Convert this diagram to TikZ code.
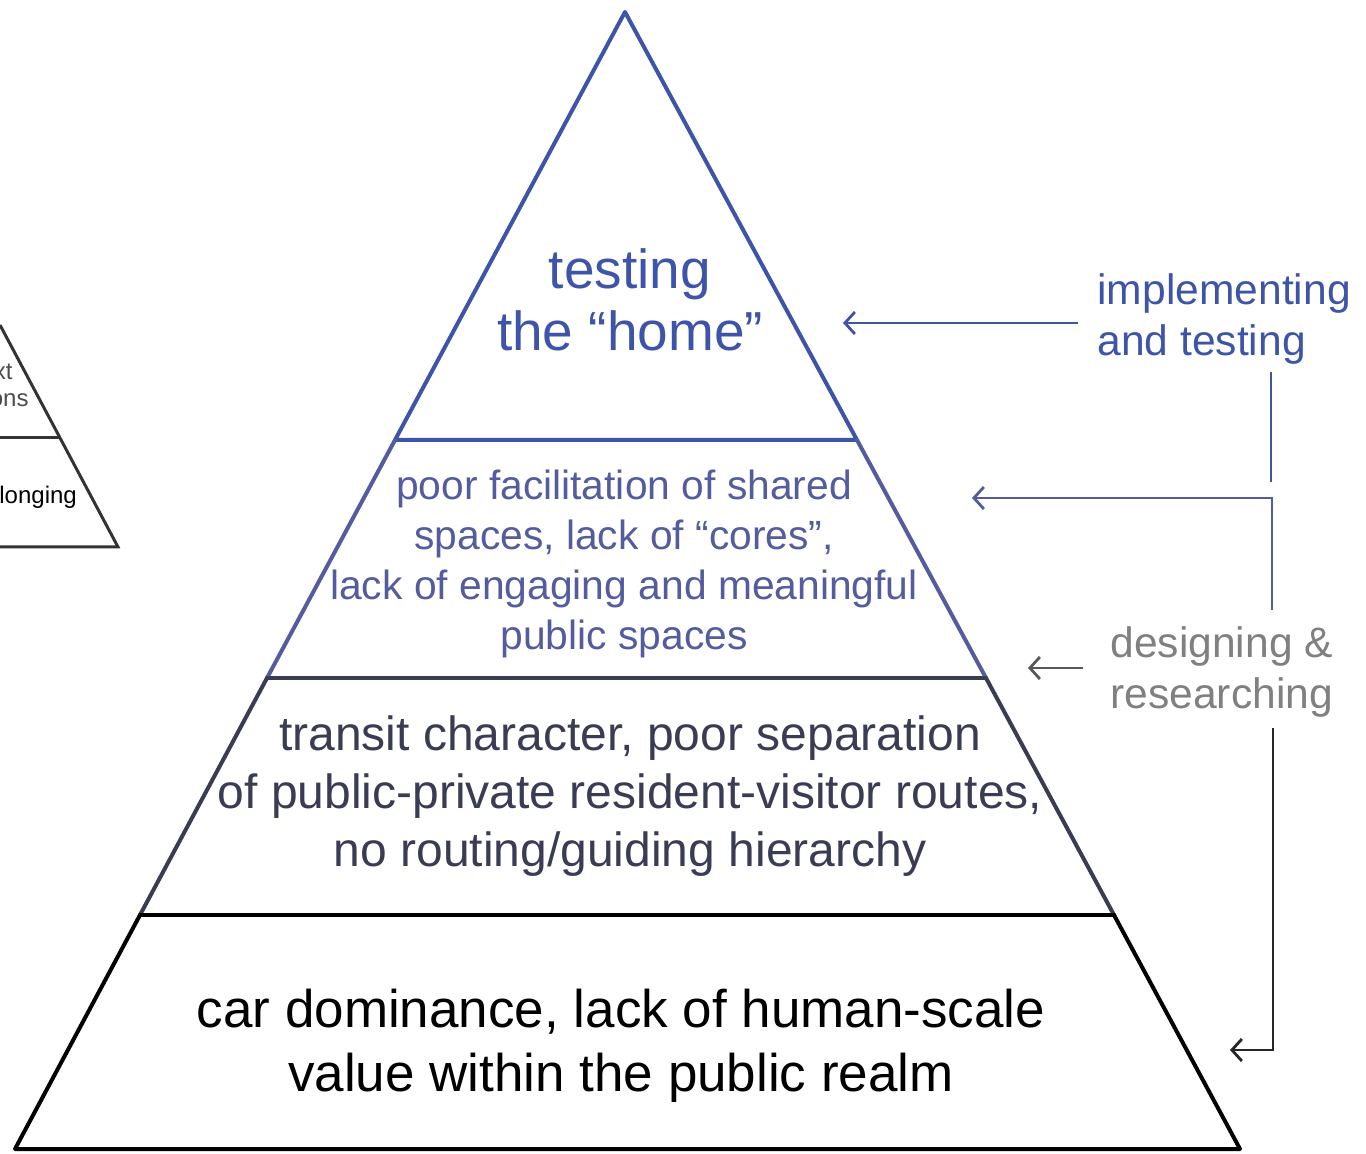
\documentclass[tikz,border=0pt]{standalone}
\usepackage{fontspec}
\setmainfont{Liberation Sans}
\usetikzlibrary{arrows.meta}
\definecolor{topblue}{RGB}{62,84,168}
\definecolor{midblue}{RGB}{84,92,158}
\definecolor{slate}{RGB}{58,60,84}
\definecolor{labelgray}{RGB}{128,128,128}

\begin{document}
\begin{tikzpicture}[x=0.5pt, y=-0.5pt,
                    every node/.style={inner sep=0pt, align=center},
                    tier_edge/.style={line width=2pt, line cap=round, line join=round},
                    flow_arrow/.style={line width=1.4pt, -{Straight Barb[length=5pt,width=11pt]}}]
                    \useasboundingbox (0,0) rectangle (1366,1154);
                    % corners of the big pyramid
                    \coordinate (apex) at (625, 12);
                    \coordinate (l1) at (395, 440);
                    \coordinate (r1) at (857, 440);
                    \coordinate (l2) at (267, 678);
                    \coordinate (r2) at (986, 678);
                    \coordinate (l3) at (140, 915);
                    \coordinate (r3) at (1114, 915);
                    \coordinate (l4) at (15, 1149);
                    \coordinate (r4) at (1240, 1149);
                    \draw[tier_edge, topblue] (l1) -- (apex) -- (r1) -- cycle;
                    \draw[tier_edge, midblue] (l1) -- (l2);
                    \draw[tier_edge, midblue] (r1) -- (r2);
                    \draw[tier_edge, slate] (l2) -- (r2);
                    \draw[tier_edge, slate] (l2) -- (l3);
                    \draw[tier_edge, slate] (r2) -- (r3);
                    \draw[tier_edge, black] (l3) -- (r3);
                    \draw[tier_edge, black] (l3) -- (l4) -- (r4) -- (r3);
                    % corner of the small pyramid on the left
                    \coordinate (s1) at (0, 325);
                    \coordinate (s2) at (118, 547);
                    \coordinate (s3) at (0, 547);
                    \coordinate (s4) at (0, 438);
                    \coordinate (s5) at (60, 438);
                    \draw[line width=1.5pt, black!80] (s1) -- (s2) -- (s3);
                    \draw[line width=1.5pt, black!80] (s4) -- (s5);
                    \node[anchor=east, text=black!70, font=\fontsize{12}{14}\selectfont] (ctx) at (13, 372) {xt};
                    \node[anchor=east, text=black!70, font=\fontsize{12}{14}\selectfont] (rel) at (29, 400) {ons};
                    \node[anchor=west, font=\fontsize{12}{14}\selectfont] (bel) at (-1, 497) {longing};
                    % tier texts
                    \node[text=topblue, font=\fontsize{27.5}{31}\selectfont] (home) at (630, 300) {testing\\the “home”};
                    \node[text=midblue, font=\fontsize{20.4}{25}\selectfont] (shared) at (624, 564) {poor facilitation of shared\\spaces, lack of “cores”,\\lack of engaging and meaningful\\public spaces};
                    \node[text=slate, font=\fontsize{24}{29}\selectfont] (transit) at (630, 796) {transit character, poor separation\\of public-private resident-visitor routes,\\no routing/guiding hierarchy};
                    \node[font=\fontsize{26.5}{32}\selectfont] (car) at (621, 1046) {car dominance, lack of human-scale\\value within the public realm};
                    % phases on the right
                    \node[anchor=west, align=left, text=topblue, font=\fontsize{21.3}{25.5}\selectfont] (impl) at (1097, 319) {implementing\\and testing};
                    \node[anchor=west, align=left, text=labelgray, font=\fontsize{21.3}{25.5}\selectfont] (design) at (1110, 672) {designing \&\\researching};
                    \coordinate (impl_a) at (1078, 323);
                    \coordinate (impl_b) at (843, 323);
                    \coordinate (impl_c) at (1271, 372);
                    \coordinate (impl_d) at (1271, 482);
                    \coordinate (impl_e) at (1272, 610);
                    \coordinate (impl_f) at (1272, 498);
                    \coordinate (impl_g) at (972, 498);
                    \coordinate (des_a) at (1083, 668);
                    \coordinate (des_b) at (1028, 668);
                    \coordinate (des_c) at (1273, 728);
                    \coordinate (des_d) at (1273, 1050);
                    \coordinate (des_e) at (1230, 1050);
                    \draw[flow_arrow, topblue] (impl_a) -- (impl_b);
                    \draw[line width=1.4pt, topblue] (impl_c) -- (impl_d);
                    \draw[flow_arrow, midblue] (impl_e) -- (impl_f) -- (impl_g);
                    \draw[flow_arrow, black!65] (des_a) -- (des_b);
                    \draw[flow_arrow, black!85] (des_c) -- (des_d) -- (des_e);
                \end{tikzpicture}
\end{document}
